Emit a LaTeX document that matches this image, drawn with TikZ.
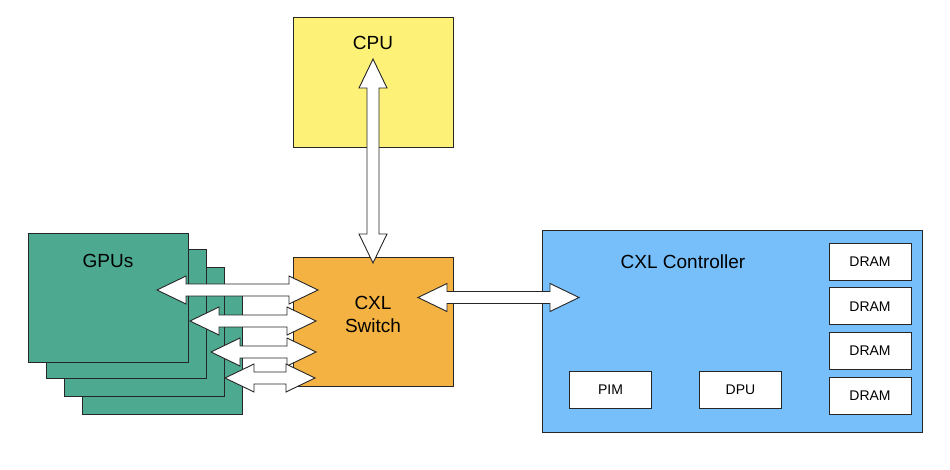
\documentclass[tikz,border=0pt]{standalone}
\usepackage{fontspec}
\setmainfont{Liberation Sans}
\usepackage{tikz}
\usetikzlibrary{calc}
\definecolor{cpuyellow}{HTML}{FDF177}
\definecolor{switchorange}{HTML}{F3B241}
\definecolor{ctrlblue}{HTML}{76BFFA}
\definecolor{gputeal}{HTML}{4DA98F}
\tikzset{
    box/.style={draw=black!85, line width=0.9pt, anchor=north west, inner sep=0pt},
    bigtext/.style={font=\fontsize{19}{23}\selectfont, align=center},
    smallbox/.style={draw=black!85, line width=0.9pt, fill=white, minimum width=82pt,
        minimum height=37pt, inner sep=0pt, font=\fontsize{14}{16}\selectfont},
    fatarrow/.style={draw=black!85, line width=0.9pt, fill=white,
        to path={let \p1=(\tikztostart), \p2=(\tikztotarget),
            \n1={atan2(\y2-\y1,\x2-\x1)}, \n2={veclen(\x2-\x1,\y2-\y1)-58pt} in
            (\tikztostart) -- ++({\n1+25.77}:32.2pt) -- ++({\n1-90}:8pt) -- ++({\n1}:\n2)
            -- ++({\n1+90}:8pt) -- (\tikztotarget) -- ++({\n1+205.77}:32.2pt)
            -- ++({\n1+90}:8pt) -- ++({\n1+180}:\n2) -- ++({\n1-90}:8pt) -- cycle}}
}
\begin{document}
\begin{tikzpicture}[x=1pt, y=-1pt]
    \useasboundingbox (0,0) rectangle (950,470);
    % boxes
    \node[box, fill=cpuyellow, minimum width=160pt, minimum height=130pt] (cpu) at (293,17) {};
    \node[bigtext] (cpulbl) at (373,43) {CPU};
    \foreach \i/\x/\y in {4/82/285,3/64/267,2/46/249,1/28/233}
        \node[box, fill=gputeal, minimum width=160pt, minimum height=129pt] (gpu\i) at (\x,\y) {};
    \node[bigtext] (gpulbl) at (108,261) {GPUs};
    \node[box, fill=switchorange, minimum width=160pt, minimum height=129pt] (switch) at (293,257) {};
    \node[bigtext] (swlbl) at (373,314) {CXL\\Switch};
    \node[box, fill=ctrlblue, minimum width=380pt, minimum height=202pt] (ctrl) at (542,230) {};
    \node[bigtext] (ctrllbl) at (683,262) {CXL Controller};
    \foreach \i in {0,...,3}
        \node[smallbox] (dram\i) at (870,{261.5+44.7*\i}) {DRAM};
    \node[smallbox] (pim) at (610.5,389.5) {PIM};
    \node[smallbox] (dpu) at (740.5,389.5) {DPU};
    % arrow ends
    \coordinate (cputip) at (373,59);
    \coordinate (swtop) at (373,263);
    \coordinate (swright) at (418,297.5);
    \coordinate (ctrlleft) at (579,297.5);
    \coordinate (g1) at (157,290);  \coordinate (s1) at (318,290);
    \coordinate (g2) at (190,321);  \coordinate (s2) at (316,321);
    \coordinate (g3) at (211,352);  \coordinate (s3) at (316,352);
    \coordinate (g4) at (225,378);  \coordinate (s4) at (315,378);
    % links
    \path[fatarrow] (cputip) to (swtop);
    \path[fatarrow] (swright) to (ctrlleft);
    \foreach \i in {1,...,4}
        \path[fatarrow] (g\i) to (s\i);
\end{tikzpicture}
\end{document}
